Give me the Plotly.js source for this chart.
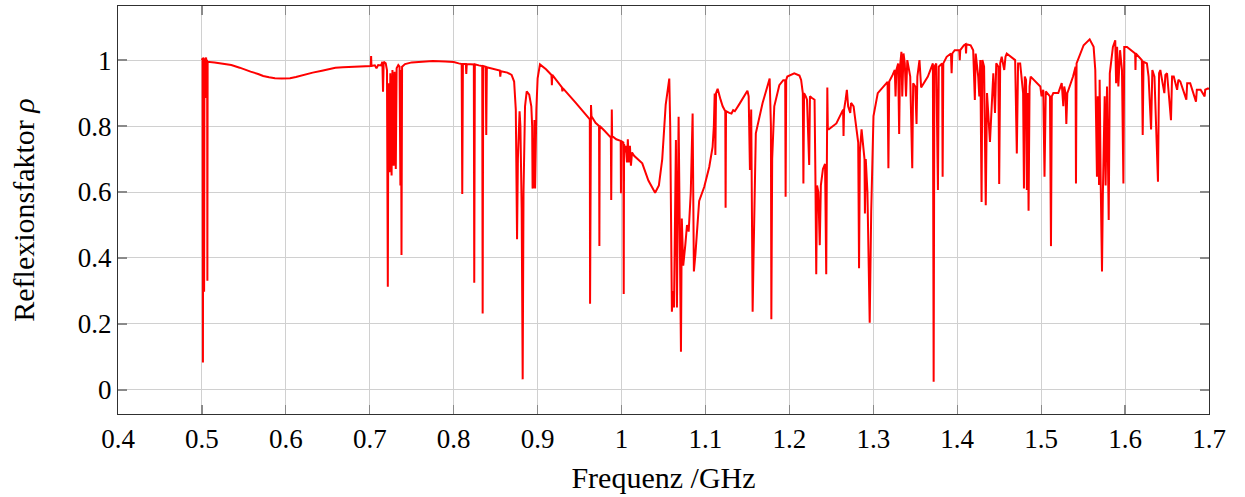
<!DOCTYPE html>
<html><head><meta charset="utf-8">
<script src="https://cdn.plot.ly/plotly-3.0.1.min.js"></script>
<style>body{margin:0;background:#fff}#chart{width:1245px;height:497px}</style>
</head><body><div id="chart"></div>
<script>
const freq = [
0.5000,0.5008,0.5012,0.5016,0.5022,0.5026,0.5030,0.5040,0.5050,0.5053,0.5057,0.5062,0.5065,0.5068,
0.515,0.525,0.535,0.545,0.550,0.558,0.567,0.573,0.580,0.587,0.595,0.605,0.612,0.623,0.632,0.643,0.650,0.659,0.668,0.680,0.700,0.7012,0.7016,0.7020,
0.706,0.708,0.710,0.7135,0.7150,0.7158,0.7166,0.719,0.7205,0.7215,0.7222,0.7235,0.7245,0.7260,0.7270,
0.7285,0.7295,0.731,0.732,0.734,0.7355,0.7365,0.7372,0.7378,0.7385,0.742,0.750,0.760,0.775,0.790,
0.800,0.806,0.8095,0.8102,0.8110,0.8145,0.8150,0.8156,0.8240,0.8245,0.8252,0.830,0.8340,0.8345,0.8352,
0.8382,0.8388,0.8395,0.848,0.855,0.8555,0.8562,0.864,0.869,0.872,0.874,0.8755,0.8765,0.8785,0.8795,
0.8810,0.8822,0.8832,0.8850,0.887,0.890,0.8925,0.8935,0.8940,0.8955,0.8962,0.8970,0.8985,0.900,0.9028,
0.910,0.9165,0.9170,0.9175,0.929,0.9295,0.930,0.945,0.961,0.9622,0.9625,0.9630,0.9636,0.9642,0.969,
0.9732,0.9736,0.9740,0.980,0.985,0.9873,0.9877,0.9880,0.9884,0.9888,0.9937,0.999,0.9993,0.9997,1.001,
1.0022,1.0026,1.0030,1.0045,1.005,1.0065,1.0075,1.0085,1.010,1.0112,1.0125,1.015,1.0247,1.032,1.040,
1.0445,1.0485,1.0526,1.0556,1.0569,1.058,1.0600,1.0612,1.0625,1.0648,1.0660,1.0680,1.0690,1.0708,1.0718,
1.0735,1.0760,1.078,1.0800,1.0825,1.0847,1.0862,1.0880,1.0925,1.0985,1.1045,1.1085,1.1100,1.1110,1.1118,
1.1126,1.1145,1.1180,1.1205,1.1236,1.1240,1.1245,1.1284,1.1310,1.1330,1.1350,1.140,1.150,1.1515,1.1530,
1.1545,1.1562,1.1572,1.1590,1.1600,1.168,1.1740,1.1765,1.1780,1.1785,1.1795,1.1820,1.1880,1.1927,1.1950,
1.1955,1.1962,1.1975,1.2058,1.2120,1.2140,1.2160,1.2167,1.2175,1.2195,1.2210,1.2236,1.2245,1.2270,1.2300,
1.2310,1.2320,1.2330,1.2345,1.2362,1.2375,1.2400,1.2425,1.2439,1.2445,1.2452,1.2458,1.2470,1.2560,1.2640,
1.2645,1.2652,1.2670,1.2685,1.2700,1.2725,1.2735,1.2765,1.2800,1.2820,1.2830,1.2840,1.2860,1.2880,1.2895,
1.2900,1.2910,1.2930,1.2957,1.2975,1.3002,1.3053,1.3110,1.3170,1.3180,1.3190,1.3230,1.3256,1.3265,1.3275,
1.3296,1.3308,1.3318,1.3335,1.3345,1.3352,1.3360,1.3375,1.3390,1.3405,1.3440,1.3464,1.3475,1.3500,1.3515,
1.3525,1.3550,1.3570,1.3650,1.3710,1.3719,1.3728,1.3750,1.3770,1.3780,1.3800,1.3820,1.3826,1.3834,1.3874,
1.3925,1.3933,1.3941,1.3970,1.4024,1.4030,1.4036,1.4080,1.4100,1.4105,1.4110,1.4160,1.4190,1.4210,1.4220,
1.4250,1.4263,1.4275,1.4290,1.4300,1.4320,1.4340,1.4355,1.4390,1.4430,1.4450,1.4465,1.4490,1.4500,1.4512,
1.4530,1.4560,1.4575,1.4590,1.4640,1.4690,1.4710,1.4725,1.4750,1.4785,1.4795,1.4805,1.4820,1.4830,1.4840,
1.4850,1.4862,1.4875,1.4990,1.5005,1.5025,1.5040,1.5055,1.5105,1.5117,1.5127,1.5145,1.5204,1.5245,1.5264,
1.5275,1.5290,1.5300,1.5312,1.5380,1.5410,1.5415,1.5422,1.5506,1.5578,1.5625,1.5645,1.5665,1.5675,1.5690,
1.5697,1.5710,1.5725,1.5735,1.5757,1.5768,1.5785,1.5805,1.5818,1.5855,1.5883,1.5893,1.5905,1.5920,1.5940,
1.5963,1.5980,1.5990,1.6023,1.6120,1.6124,1.6128,1.6200,1.6210,1.6220,1.6260,1.6280,1.6310,1.6325,1.6350,
1.6392,1.6405,1.6420,1.6468,1.6480,1.6500,1.6547,1.6560,1.6580,1.6620,1.6635,1.6658,1.6730,1.6740,1.6776,
1.6845,1.6855,1.6900,1.6948,1.6955,1.6988,1.7000
];
const rho = [
1.000,1.005,0.083,1.008,1.000,0.298,1.005,0.998,1.008,0.885,1.000,0.998,0.331,0.995,
0.993,0.990,0.985,0.977,0.972,0.965,0.958,0.952,0.948,0.945,0.944,0.945,0.949,0.957,0.962,0.968,0.972,0.977,0.978,0.979,0.981,0.982,1.012,0.982,
0.984,0.975,0.985,0.984,0.995,0.904,0.995,0.990,0.97,0.313,0.93,0.66,0.96,0.65,0.97,
0.68,0.965,0.67,0.975,0.985,0.98,0.62,0.97,0.409,0.98,0.988,0.993,0.995,0.997,0.996,
0.994,0.990,0.988,0.594,0.988,0.988,0.958,0.988,0.987,0.325,0.987,0.984,0.982,0.232,0.982,
0.980,0.773,0.978,0.972,0.968,0.950,0.966,0.962,0.955,0.935,0.85,0.457,0.70,0.845,0.80,
0.55,0.032,0.60,0.86,0.905,0.895,0.86,0.80,0.611,0.62,0.818,0.611,0.85,0.945,0.987,
0.972,0.955,0.924,0.955,0.917,0.905,0.915,0.872,0.823,0.82,0.261,0.82,0.864,0.83,0.81,
0.80,0.436,0.80,0.785,0.773,0.765,0.576,0.76,0.85,0.77,0.76,0.755,0.596,0.755,0.752,
0.75,0.291,0.745,0.72,0.74,0.69,0.76,0.69,0.74,0.68,0.72,0.71,0.687,0.635,0.598,
0.62,0.70,0.864,0.93,0.944,0.80,0.237,0.30,0.25,0.758,0.25,0.828,0.50,0.116,0.52,
0.377,0.44,0.50,0.48,0.60,0.838,0.359,0.41,0.573,0.615,0.676,0.737,0.80,0.899,0.712,
0.90,0.913,0.88,0.86,0.845,0.552,0.845,0.84,0.838,0.848,0.845,0.865,0.907,0.89,0.667,
0.85,0.237,0.39,0.70,0.778,0.869,0.92,0.944,0.80,0.214,0.70,0.86,0.924,0.939,0.939,
0.586,0.94,0.95,0.96,0.953,0.94,0.90,0.626,0.90,0.89,0.88,0.682,0.89,0.885,0.88,
0.65,0.351,0.62,0.60,0.439,0.62,0.67,0.685,0.351,0.70,0.917,0.79,0.79,0.808,0.85,
0.77,0.85,0.88,0.91,0.86,0.84,0.87,0.86,0.79,0.75,0.369,0.72,0.79,0.74,0.70,
0.535,0.70,0.60,0.204,0.54,0.83,0.90,0.917,0.934,0.672,0.935,0.955,0.97,0.89,0.97,
0.99,0.776,0.98,1.025,0.89,1.00,1.02,0.99,0.89,1.0,0.95,0.672,0.93,0.92,0.806,
0.95,1.0,0.917,0.95,0.99,0.025,0.98,0.99,0.606,0.98,0.985,0.99,0.646,0.99,1.01,
1.02,0.96,1.02,1.03,1.03,1.00,1.03,1.045,1.048,1.02,1.048,1.045,1.03,0.879,1.02,
0.95,0.89,1.0,0.57,1.0,0.98,0.56,0.90,0.752,0.96,0.84,0.99,0.98,0.624,0.99,
1.01,0.97,1.01,1.02,1.01,1.0,0.717,0.99,0.99,0.9,0.611,0.95,0.94,0.606,0.90,
0.543,0.92,0.95,0.92,0.89,0.91,0.646,0.905,0.89,0.436,0.89,0.90,0.90,0.93,0.86,
0.92,0.90,0.806,0.90,0.95,0.98,0.626,0.99,1.045,1.063,1.04,0.97,0.646,0.89,0.621,
0.94,0.62,0.359,0.59,0.89,0.62,0.92,0.515,0.96,1.04,1.06,0.93,1.04,0.92,1.03,
0.97,0.626,1.04,1.04,1.02,0.97,1.02,1.0,0.773,0.995,0.99,0.95,0.79,0.97,0.95,
0.631,0.96,0.97,0.90,0.955,0.96,0.818,0.95,0.95,0.91,0.94,0.935,0.88,0.93,0.93,
0.874,0.91,0.91,0.89,0.91,0.914,0.912
];
const xTicks = [0.4,0.5,0.6,0.7,0.8,0.9,1.0,1.1,1.2,1.3,1.4,1.5,1.6,1.7];
const xTickText = ["0.4","0.5","0.6","0.7","0.8","0.9","1","1.1","1.2","1.3","1.4","1.5","1.6","1.7"];
const yTicks = [0,0.2,0.4,0.6,0.8,1];
const yTickText = ["0","0.2","0.4","0.6","0.8","1"];
const xTitle = "Frequenz /GHz";
const yTitle = "Reflexionsfaktor <i>ρ</i>";

const font = {family: "Liberation Serif, DejaVu Serif, serif", size: 27, color: "#000"};
const titleFont = {family: "Liberation Serif, DejaVu Serif, serif", size: 30, color: "#000"};
const trace = {x: freq, y: rho, type: "scatter", mode: "lines",
  line: {color: "#ff0000", width: 2}, hoverinfo: "skip"};
const axisCommon = {showline: true, linecolor: "#303030", linewidth: 1.2, mirror: "allticks",
  ticks: "inside", ticklen: 9, tickcolor: "#8a8a8a", tickwidth: 1.2, showgrid: true, gridcolor: "#d0d0d0", gridwidth: 1,
  zeroline: false, tickfont: font, tickmode: "array"};
const layout = {
  width: 1245, height: 497,
  margin: {l: 118, r: 36, t: 6, b: 83},
  paper_bgcolor: "#fff", plot_bgcolor: "#fff",
  font: font, showlegend: false,
  xaxis: Object.assign({}, axisCommon, {range: [0.4, 1.7], tickvals: xTicks, ticktext: xTickText,
    title: {text: xTitle, font: titleFont, standoff: 14}}),
  yaxis: Object.assign({}, axisCommon, {range: [-0.073, 1.164], tickvals: yTicks, ticktext: yTickText,
    title: {text: yTitle, font: titleFont, standoff: 34}})
};
Plotly.newPlot("chart", [trace], layout, {displayModeBar: false, staticPlot: true});
</script></body></html>
